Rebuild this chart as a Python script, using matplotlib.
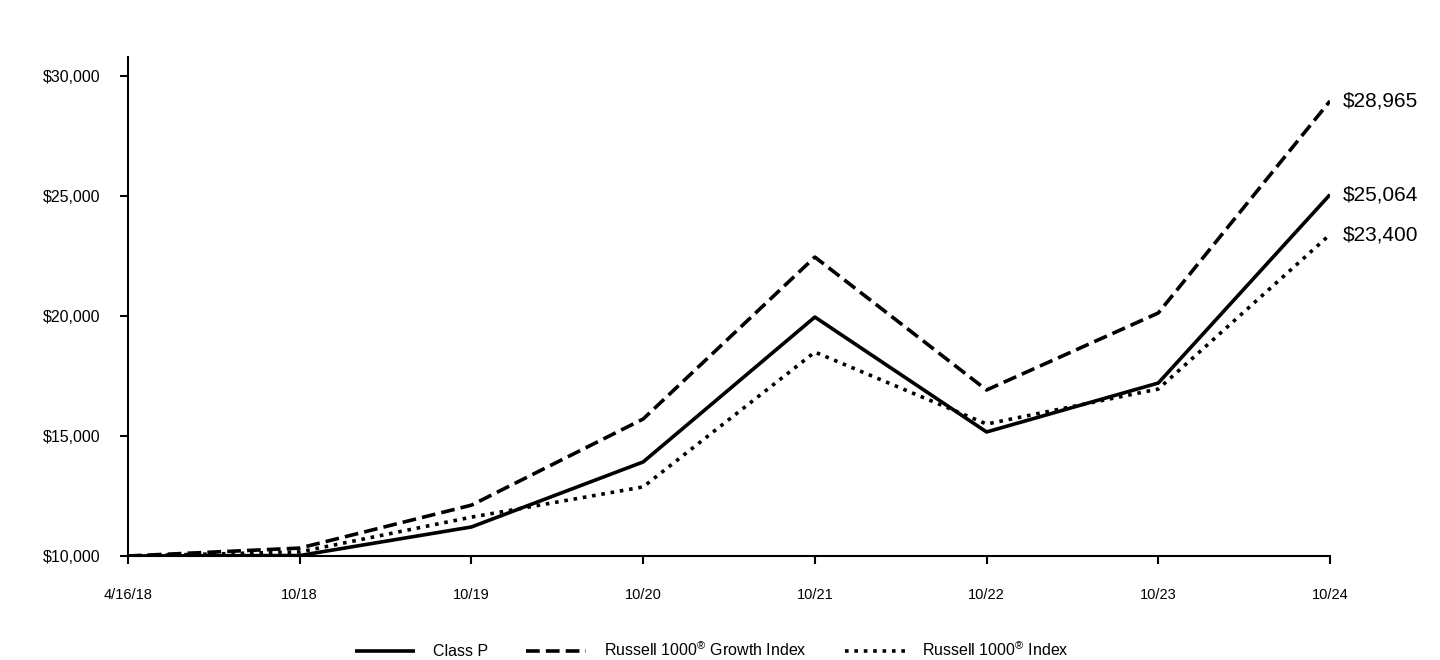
import matplotlib
matplotlib.use('Agg')
import matplotlib.pyplot as plt
from matplotlib.ticker import FuncFormatter

plt.rcParams['font.family'] = ['Liberation Sans', 'DejaVu Sans']
plt.rcParams['mathtext.fontset'] = 'custom'
plt.rcParams['mathtext.rm'] = 'Liberation Sans'

dates = ['4/16/18', '10/18', '10/19', '10/20', '10/21', '10/22', '10/23', '10/24']
class_p = [10000, 10020, 11210, 13920, 19960, 15170, 17210, 25064]
growth = [10000, 10330, 12120, 15710, 22460, 16920, 20130, 28965]
russell = [10000, 10170, 11620, 12880, 18500, 15500, 16960, 23400]
end_labels = ['$28,965', '$25,064', '$23,400']

fig = plt.figure(figsize=(14.4, 6.6), dpi=100)
ax = fig.add_axes([128/1440, 104/660, 1202/1440, 499/660])

x = list(range(len(dates)))
lw = 2.6
l1, = ax.plot(x, class_p, color='black', lw=lw, solid_capstyle='butt')
l2, = ax.plot(x, growth, color='black', lw=lw, dashes=(3.8, 1.7), dash_capstyle='butt')
l3, = ax.plot(x, russell, color='black', lw=lw, dashes=(1.0, 1.6), dash_capstyle='butt')

ax.set_xlim(0, len(dates) - 1)
ax.set_ylim(10000, 30800)
ax.set_xticks(x)
ax.set_xticklabels(dates)
ax.set_yticks([10000, 15000, 20000, 25000, 30000])
ax.yaxis.set_major_formatter(FuncFormatter(lambda v, p: f'${v:,.0f}'))

for s in ['top', 'right']:
    ax.spines[s].set_visible(False)
for s in ['left', 'bottom']:
    ax.spines[s].set_linewidth(1.5)
ax.tick_params(axis='both', direction='out', length=6, width=1.5)
ax.tick_params(axis='x', pad=17, labelsize=10.5)
ax.tick_params(axis='y', pad=14, labelsize=11.5)
ax.spines['bottom'].set_zorder(0)

for val, lab in zip([growth[-1], class_p[-1], russell[-1]], end_labels):
    ax.annotate(lab, xy=(x[-1], val), xytext=(9.5, 0), textcoords='offset points',
                ha='left', va='center', fontsize=15, annotation_clip=False)

fig.legend([l1, l2, l3],
           ['Class P', 'Russell 1000$^{\\mathrm{®}}$ Growth Index', 'Russell 1000$^{\\mathrm{®}}$ Index'],
           loc='center', bbox_to_anchor=(712/1440, 1 - 650/660), ncol=3, frameon=False,
           fontsize=11.5, handlelength=3.75, columnspacing=2.4, handletextpad=1.1)

fig.savefig('out.png', dpi=100)
